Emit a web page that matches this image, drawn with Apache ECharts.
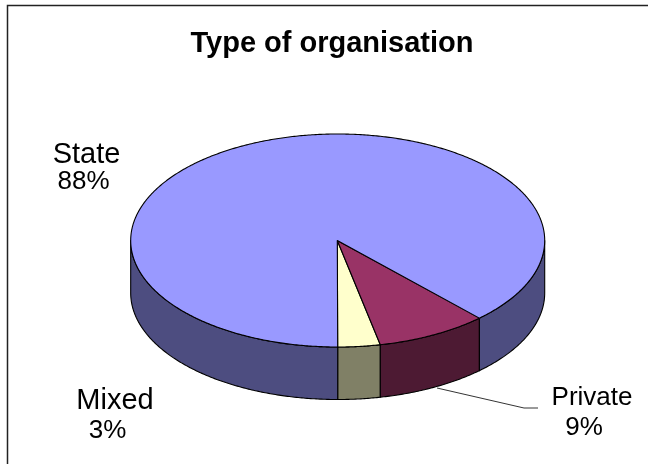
<!DOCTYPE html>
<html>
<head>
<meta charset="utf-8">
<style>html,body{margin:0;padding:0;background:#fff}#c{width:648px;height:464px}</style>
<script src="https://cdn.jsdelivr.net/npm/echarts@6/dist/echarts.min.js"></script>
</head>
<body>
<div id="c"></div>
<script>
const chartTitle = 'Type of organisation';
const categories = ['Mixed', 'Private', 'State'];
const shares = [3.3, 8.7, 88];

const topColors = { Mixed: '#FFFFCC', Private: '#993366', State: '#9999FF' };
const sideColors = { Mixed: '#808066', Private: '#4D1A33', State: '#4D4D80' };
const labelLayout = {
  Mixed:   { name: [115, 400.5], nameSize: 29, pct: [107.5, 431] },
  Private: { name: [592, 397.5], nameSize: 26, pct: [584, 428] },
  State:   { name: [86.5, 154.5], nameSize: 29, pct: [83.5, 181.5] }
};
const CX = 337.7, CY = 240.5, RX = 207, RY = 106.5, DEPTH = 52.5, STEP = 0.5;
const FONT = '"Liberation Sans", Arial, sans-serif';
const total = shares.reduce((a, b) => a + b, 0);

// angle: 0 at the front (bottom), increasing counter-clockwise on screen
function pt(deg, dy) {
  const r = deg * Math.PI / 180;
  return [CX + RX * Math.sin(r), CY + RY * Math.cos(r) + (dy || 0)];
}
function arc(a, b, dy) {
  const out = [];
  const n = Math.max(1, Math.ceil(Math.abs(b - a) / STEP));
  for (let i = 0; i <= n; i++) out.push(pt(a + (b - a) * i / n, dy));
  return out;
}
function sidePoly(a, b, color) {
  return {
    type: 'polygon',
    shape: { points: arc(a, b, 0).concat(arc(b, a, DEPTH)) },
    style: { fill: color, stroke: '#000', lineWidth: 1.1, lineJoin: 'round' }
  };
}
// visible part of the wall: angles 0..90 and 270..360
function visibleWalls(a, b, color) {
  const out = [];
  [[0, 90], [270, 360]].forEach(function (w) {
    const s = Math.max(a, w[0]), e = Math.min(b, w[1]);
    if (e > s) out.push(sidePoly(s, e, color));
  });
  return out;
}

const rows = categories.map(function (name, i) {
  const before = shares.slice(0, i).reduce((a, b) => a + b, 0);
  return [name, shares[i], before];
});

function textEl(text, pos, size) {
  return {
    type: 'text',
    z2: 10,
    style: {
      x: pos[0], y: pos[1],
      text: text,
      fill: '#000',
      font: size + 'px ' + FONT,
      align: 'center',
      verticalAlign: 'middle'
    }
  };
}

function renderItem(params, api) {
  const i = params.dataIndex;
  const name = categories[i];
  const a = api.value(2) / total * 360;
  const b = a + api.value(1) / total * 360;
  const children = visibleWalls(a, b, sideColors[name]);
  children.push({
    type: 'polygon',
    z2: 5,
    shape: { points: [[CX - 0.4, CY]].concat(arc(a, b, 0)) },
    style: { fill: topColors[name], stroke: '#000', lineWidth: 1.1, lineJoin: 'round' }
  });
  const lay = labelLayout[name];
  children.push(textEl(name, lay.name, lay.nameSize));
  children.push(textEl(Math.round(api.value(1)) + '%', lay.pct, 26));
  return { type: 'group', children: children };
}

const chart = echarts.init(document.getElementById('c'), null, { renderer: 'canvas' });
chart.setOption({
  animation: false,
  backgroundColor: '#fff',
  title: {
    text: chartTitle,
    left: 327, top: 24, textAlign: 'center',
    textStyle: { fontFamily: FONT, fontSize: 29, fontWeight: 'bold', color: '#000' }
  },
  graphic: [
    { type: 'polyline', shape: { points: [[7.5, 464], [7.5, 5.5], [648, 5.5]] },
      style: { fill: 'none', stroke: '#222', lineWidth: 1.5 }, silent: true },
    { type: 'polyline', shape: { points: [[437, 388], [524, 408], [538, 408]] },
      style: { fill: 'none', stroke: '#000', lineWidth: 0.8 }, silent: true }
  ],
  series: [{
    type: 'custom',
    coordinateSystem: 'none',
    data: rows,
    renderItem: renderItem,
    encode: { tooltip: 1 }
  }]
});
</script>
</body>
</html>
